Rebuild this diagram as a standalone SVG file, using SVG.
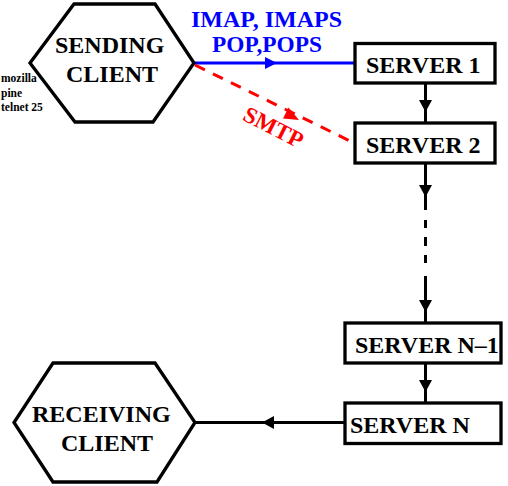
<svg xmlns="http://www.w3.org/2000/svg" width="508" height="486" viewBox="0 0 508 486">
<style>
  .shape { fill: #fff; stroke: #000; stroke-width: 3.3; stroke-linejoin: miter; }
  .lbl { font-family: "Liberation Serif", "Times New Roman", serif; font-weight: bold; font-size: 24px; fill: #000; }
  .small { font-family: "Liberation Serif", "Times New Roman", serif; font-weight: bold; font-size: 11.5px; fill: #000; }
  .blue { font-family: "Liberation Serif", "Times New Roman", serif; font-weight: bold; font-size: 23px; fill: #0000ff; }
  .red { font-family: "Liberation Serif", "Times New Roman", serif; font-weight: bold; font-size: 23px; fill: #ff0000; }
  .conn { fill: none; stroke: #000; stroke-width: 3; }
  .head { fill: #000; stroke: none; }
</style>
<rect width="508" height="486" fill="#fff"/>
<g id="connectors">
  <!-- Sending client to Server 1 (blue) -->
  <line x1="195" y1="63" x2="356" y2="63" stroke="#0000ff" stroke-width="3"/>
  <polygon points="277,63 265,57 265,69" fill="#0000ff"/>
  <!-- Sending client to Server 2 (red dashed) -->
  <line x1="195" y1="65" x2="350" y2="141" stroke="#ff0000" stroke-width="3" stroke-dasharray="11 9"/>
  <polygon points="299,120 283,118.5 288.5,107.5" fill="#ff0000"/>
  <!-- Server 1 to Server 2 -->
  <line class="conn" x1="425.5" y1="83" x2="425.5" y2="123"/>
  <polygon class="head" points="425.5,112 419,100 432,100"/>
  <!-- Server 2 to Server N-1 (with dashed middle) -->
  <line class="conn" x1="425.5" y1="163" x2="425.5" y2="210"/>
  <polygon class="head" points="425.5,197 419,185 432,185"/>
  <path class="conn" d="M425.5 220 V228 M425.5 237 V246 M425.5 255 V263"/>
  <line class="conn" x1="425.5" y1="276" x2="425.5" y2="323"/>
  <polygon class="head" points="425.5,312 419,300 432,300"/>
  <!-- Server N-1 to Server N -->
  <line class="conn" x1="425.5" y1="363" x2="425.5" y2="403"/>
  <polygon class="head" points="425.5,392 419,380 432,380"/>
  <!-- Server N to Receiving client -->
  <line class="conn" x1="345" y1="422.5" x2="195" y2="422.5"/>
  <polygon class="head" points="262,422.5 274,416 274,429"/>
  <!-- connector labels -->
  <text class="blue" x="191" y="27" textLength="151" lengthAdjust="spacingAndGlyphs">IMAP, IMAPS</text>
  <text class="blue" x="212" y="52" textLength="110" lengthAdjust="spacingAndGlyphs">POP,POPS</text>
  <text class="red" transform="translate(270,134) rotate(27)" text-anchor="middle">SMTP</text>
</g>
<g id="sending-client">
  <polygon class="shape" points="74,4 155,4 194,63 153,122 75,122 30,63"/>
  <text class="lbl" x="55" y="53">SENDING</text>
  <text class="lbl" x="66" y="82">CLIENT</text>
</g>
<g id="client-notes">
  <text class="small" x="1" y="82">mozilla</text>
  <text class="small" x="1" y="97">pine</text>
  <text class="small" x="1" y="111">telnet 25</text>
</g>
<g id="server-1">
  <rect class="shape" x="355" y="43.5" width="140" height="39.5"/>
  <text class="lbl" x="366" y="73">SERVER 1</text>
</g>
<g id="server-2">
  <rect class="shape" x="355" y="123" width="140" height="40"/>
  <text class="lbl" x="366" y="153">SERVER 2</text>
</g>
<g id="server-n-1">
  <rect class="shape" x="345" y="323" width="156" height="40"/>
  <text class="lbl" x="355" y="353">SERVER N–1</text>
</g>
<g id="server-n">
  <rect class="shape" x="345" y="403" width="156" height="40.5"/>
  <text class="lbl" x="350" y="433">SERVER N</text>
</g>
<g id="receiving-client">
  <polygon class="shape" points="53,363 155,363 195,422.5 157,482 53,482 14,422.5"/>
  <text class="lbl" x="32" y="422">RECEIVING</text>
  <text class="lbl" x="61" y="451">CLIENT</text>
</g>
</svg>
